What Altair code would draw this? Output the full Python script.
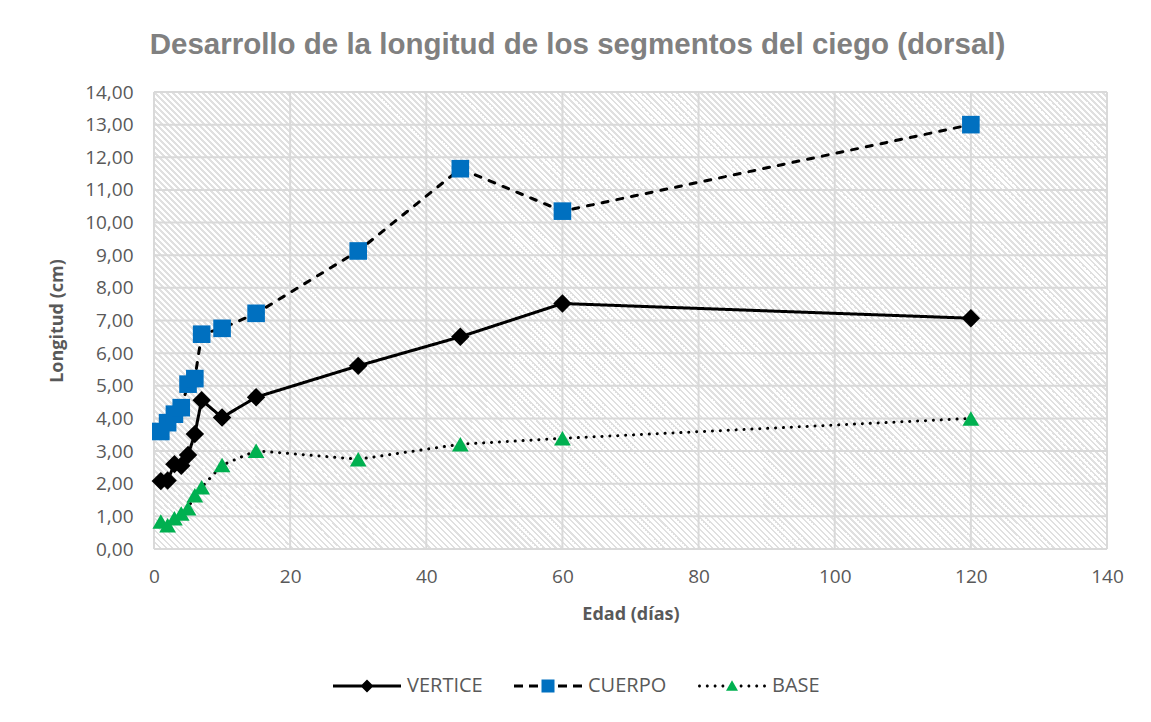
import altair as alt
import pandas as pd

# ---------------- data ----------------
edad = [1, 2, 3, 4, 5, 6, 7, 10, 15, 30, 45, 60, 120]
vertice = [2.08, 2.10, 2.60, 2.55, 2.88, 3.52, 4.56, 4.03, 4.65, 5.61, 6.50, 7.52, 7.07]
cuerpo = [3.60, 3.87, 4.13, 4.33, 5.05, 5.22, 6.58, 6.76, 7.22, 9.13, 11.65, 10.35, 13.00]
base = [0.84, 0.73, 0.94, 1.09, 1.25, 1.65, 1.89, 2.57, 3.01, 2.75, 3.21, 3.39, 4.00]
series = ["VERTICE", "CUERPO", "BASE"]
colors = ["#000000", "#0070C0", "#00B050"]
x_ticks = [0, 20, 40, 60, 80, 100, 120, 140]
y_ticks = [0, 1, 2, 3, 4, 5, 6, 7, 8, 9, 10, 11, 12, 13, 14]

rows = []
for name, vals in zip(series, [vertice, cuerpo, base]):
    for e, v in zip(edad, vals):
        rows.append({"Edad": e, "Longitud": v, "Serie": name})
df = pd.DataFrame(rows)

W, H = 953, 457
FONT = "Open Sans"
TXT = "#595959"
GRID = "#D9D9D9"

# ---------------- hatch background (diagonal stripes via gradient) ----------------
period = 6.0
n = int((W + H) / period)
stops = []
for i in range(n):
    a = i / n
    b = (i + 0.35) / n
    c = (i + 1) / n
    stops += [
        alt.GradientStop(offset=a, color="#e0e0e0"),
        alt.GradientStop(offset=b, color="#e0e0e0"),
        alt.GradientStop(offset=b, color="#ffffff"),
        alt.GradientStop(offset=c, color="#ffffff"),
    ]
k = (W + H) / (W ** 2 + H ** 2)
hatch = alt.LinearGradient(gradient="linear", stops=stops,
                           x1=0, y1=1, x2=k * W, y2=1 - k * H)

xs = alt.Scale(domain=[0, 140], nice=False, zero=False)
ys = alt.Scale(domain=[0, 14], nice=False)

x_axis = alt.Axis(values=x_ticks, title="Edad (días)", grid=False, domain=False, ticks=False,
                  labelPadding=18, titlePadding=19, labelFont=FONT, labelFontSize=19,
                  labelColor=TXT, titleFont=FONT, titleFontSize=18, titleFontWeight="bold",
                  titleColor=TXT, labelFlush=False)
y_axis = alt.Axis(values=y_ticks, title="Longitud (cm)", grid=False, domain=False, ticks=False,
                  labelPadding=21, titlePadding=18, labelFont=FONT, labelFontSize=19,
                  labelColor=TXT, titleFont=FONT, titleFontSize=18, titleFontWeight="bold",
                  titleColor=TXT, labelExpr="replace(format(datum.value, '.2f'), '.', ',')")

bg = alt.Chart(pd.DataFrame({"d": [0]})).mark_rect(fill=hatch, strokeWidth=0).encode(
    opacity=alt.value(1)
)

vgrid = alt.Chart(pd.DataFrame({"Edad": x_ticks})).mark_rule(color=GRID, strokeWidth=2).encode(
    x=alt.X("Edad:Q", scale=xs, axis=x_axis)
)
hgrid = alt.Chart(pd.DataFrame({"Longitud": y_ticks})).mark_rule(color=GRID, strokeWidth=2).encode(
    y=alt.Y("Longitud:Q", scale=ys, axis=y_axis)
)

lines = alt.Chart(df).mark_line(strokeWidth=3, color="black", strokeCap="round").encode(
    x=alt.X("Edad:Q", scale=xs, axis=x_axis),
    y=alt.Y("Longitud:Q", scale=ys, axis=y_axis),
    detail="Serie:N",
    strokeDash=alt.StrokeDash("Serie:N", scale=alt.Scale(domain=series, range=[[1, 0], [6, 9], [0.1, 7.8]]),
                              legend=None),
    order="Edad:Q",
)

color_enc = alt.Color("Serie:N", scale=alt.Scale(domain=series, range=colors), legend=None)

points = alt.Chart(df).mark_point(filled=True, opacity=1, strokeWidth=0).encode(
    x=alt.X("Edad:Q", scale=xs, axis=x_axis),
    y=alt.Y("Longitud:Q", scale=ys, axis=y_axis),
    shape=alt.Shape("Serie:N", scale=alt.Scale(domain=series, range=["diamond", "square", "triangle-up"]),
                    legend=None),
    color=color_enc,
    size=alt.Size("Serie:N", scale=alt.Scale(domain=series, range=[340, 280, 230]), legend=None),
)

# ---------------- legend symbols: line + marker drawn as custom paths ----------------
def rect(x0, x1, t=0.3):
    return f"M{x0},{-t}H{x1}V{t}H{x0}Z"

def dot(cx, r=0.3):
    return f"M{cx - r},0a{r},{r} 0 1,0 {2 * r},0a{r},{r} 0 1,0 {-2 * r},0Z"

p_vertice = rect(0, 13.6) + " M5.5,0L6.8,-1.3L8.1,0L6.8,1.3Z"
p_cuerpo = "".join(rect(a, b) for a, b in [(0, 1.8), (3.0, 4.8), (8.8, 10.6), (11.8, 13.6)]) + \
    " M5.5,-1.3H8.1V1.3H5.5Z"
p_base = "".join(dot(c) for c in [0.3, 1.86, 3.42, 4.98, 8.62, 10.18, 11.74, 13.3]) + \
    " M6.8,-1.15L8.0,0.95L5.6,0.95Z"

def grad_expr(col):
    return ("{gradient: 'linear', x1: 0, y1: 0, x2: 1, y2: 0, stops: ["
            "{offset: 0, color: '#000000'}, {offset: 0.4, color: '#000000'}, "
            f"{{offset: 0.4, color: '{col}'}}, {{offset: 0.6, color: '{col}'}}, "
            "{offset: 0.6, color: '#000000'}, {offset: 1, color: '#000000'}]}")

fill_expr = (f"datum.value == 'CUERPO' ? {grad_expr(colors[1])} : "
             f"(datum.value == 'BASE' ? {grad_expr(colors[2])} : '#000000')")

legend_layer = alt.Chart(df).transform_filter("false").mark_point(filled=True, strokeWidth=0).encode(
    x=alt.X("Edad:Q", scale=xs, axis=x_axis),
    y=alt.Y("Longitud:Q", scale=ys, axis=y_axis),
    color=color_enc,
    shape=alt.Shape(
        "Serie:N",
        scale=alt.Scale(domain=series, range=[p_vertice, p_cuerpo, p_base]),
        legend=alt.Legend(
            title=None, orient="none", direction="horizontal", legendX=169, legendY=584,
            symbolSize=100, symbolStrokeWidth=0, symbolOpacity=1,
            symbolFillColor=alt.ExprRef(expr=fill_expr),
            labelOffset=64, labelFont=FONT, labelFontSize=20, labelColor=TXT,
            columnPadding=21, padding=0, labelLimit=300,
        ),
    ),
)

chart = alt.layer(bg, vgrid, hgrid, lines, points, legend_layer).resolve_scale(
    shape="independent"
).properties(
    width=W, height=H,
    title=alt.TitleParams(
        text="Desarrollo de la longitud de los segmentos del ciego (dorsal)",
        font="Liberation Sans", fontSize=29.5, fontWeight="bold", color="#808080",
        anchor="middle", frame="group", dx=-53, offset=0, baseline="alphabetic",
    ),
    autosize=alt.AutoSizeParams(type="none"),
    padding={"left": 146, "top": 84, "right": 36, "bottom": 165},
    background="white",
).configure_view(stroke=None)

chart.save("out.html", embed_options={"renderer": "svg", "actions": False})
